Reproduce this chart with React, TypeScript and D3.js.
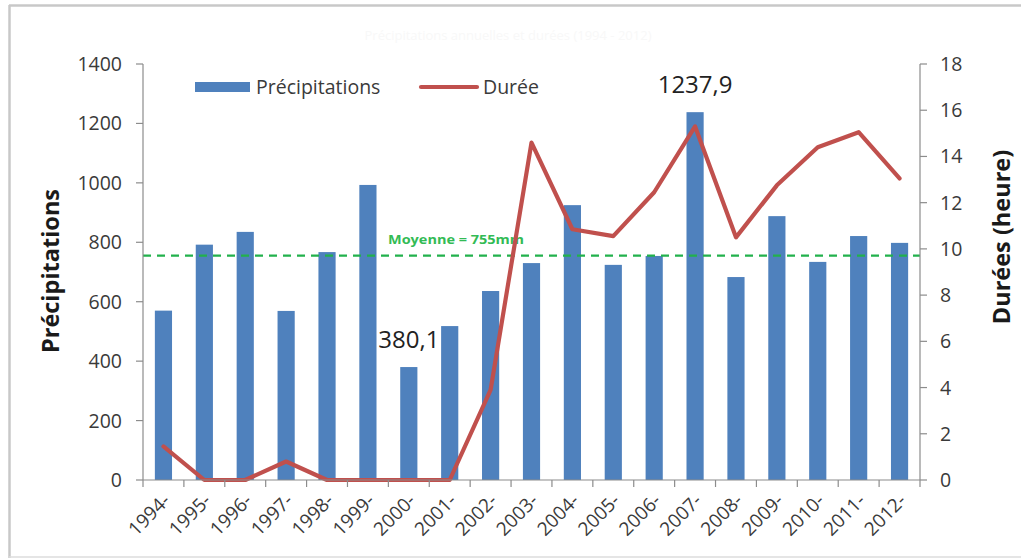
import React from "react";
import * as d3 from "d3";

const years = ["1994-","1995-","1996-","1997-","1998-","1999-","2000-","2001-","2002-","2003-","2004-","2005-","2006-","2007-","2008-","2009-","2010-","2011-","2012-"];
const precipitations = [570, 792, 835, 569, 767, 993, 380.1, 518, 636, 730, 925, 724, 754, 1237.9, 683, 888, 734, 821, 798];
const durees = [1.45, 0, 0, 0.8, 0, 0, 0, 0, 3.9, 14.6, 10.85, 10.55, 12.45, 15.3, 10.5, 12.75, 14.4, 15.05, 13.05];
const leftTicks = [0, 200, 400, 600, 800, 1000, 1200, 1400];
const rightTicks = [0, 2, 4, 6, 8, 10, 12, 14, 16, 18];
const moyenne = 755;
const annotations = [{ year: "2000-", text: "380,1" }, { year: "2007-", text: "1237,9" }];

const W = 1021, H = 558;
const FONT = "'Open Sans', Lato, sans-serif";

export default function App() {
  const left = 143, right = 920, top = 64, bottom = 480;
  const x = d3.scaleBand<string>().domain(years).range([left, right]).paddingInner(0.58).paddingOuter(0.29);
  const xb = d3.scaleBand<string>().domain(years).range([left, right]);
  const yL = d3.scaleLinear().domain([0, 1400]).range([bottom, top]);
  const yR = d3.scaleLinear().domain([0, 18]).range([bottom, top]);
  const line = d3.line<number>().x((_, i) => xb(years[i])! + xb.bandwidth() / 2).y(d => yR(d));
  const axisColor = "#8c8c8c";
  const textColor = "#3a3a3a";
  return (
    <svg width={W} height={H} style={{ position: "absolute", left: 0, top: 0, background: "#fff" }}>
      <rect x={0} y={0} width={W} height={H} fill="#fff" />
      {/* frame */}
      <line x1={9} x2={W} y1={5.5} y2={5.5} stroke="#c8c8c8" strokeWidth={2.5} />
      <line x1={9.5} x2={9.5} y1={5} y2={H} stroke="#c8c8c8" strokeWidth={2.5} />
      <line x1={9} x2={W} y1={557} y2={557} stroke="#dcdcdc" strokeWidth={1.5} />
      {/* faint title */}
      <text x={508} y={40} textAnchor="middle" fontFamily={FONT} fontSize={13} fill="#f8f8f8">Précipitations annuelles et durées (1994 - 2012)</text>
      {/* bars */}
      {precipitations.map((v, i) => (
        <rect key={years[i]} x={x(years[i])} y={yL(v)} width={x.bandwidth()} height={yL(0) - yL(v)} fill="#4f81bd" />
      ))}
      {/* mean line */}
      <line x1={left} x2={right} y1={yL(moyenne)} y2={yL(moyenne)} stroke="#22b14c" strokeWidth={2.2} strokeDasharray="8,6" />
      <text x={456} y={yL(moyenne) - 12} textAnchor="middle" fontFamily={FONT} fontWeight={700} fontSize={12.5} textLength={136} lengthAdjust="spacingAndGlyphs" fill="#33bb55">Moyenne = 755mm</text>
      {/* duration line */}
      <path d={line(durees) || ""} fill="none" stroke="#c0504d" strokeWidth={4.2} strokeLinejoin="round" strokeLinecap="round" />
      {/* left axis */}
      <line x1={left} x2={left} y1={top} y2={bottom} stroke={axisColor} strokeWidth={1.2} />
      {leftTicks.map(t => (
        <g key={"l" + t}>
          <line x1={left - 7} x2={left} y1={yL(t)} y2={yL(t)} stroke={axisColor} strokeWidth={1.2} />
          <text x={122} y={yL(t)} dy="0.36em" textAnchor="end" fontFamily={FONT} fontSize={19.5} fill={textColor}>{t}</text>
        </g>
      ))}
      {/* right axis */}
      <line x1={right} x2={right} y1={top} y2={bottom} stroke={axisColor} strokeWidth={1.2} />
      {rightTicks.map(t => (
        <g key={"r" + t}>
          <line x1={right} x2={right + 7} y1={yR(t)} y2={yR(t)} stroke={axisColor} strokeWidth={1.2} />
          <text x={940} y={yR(t)} dy="0.36em" textAnchor="start" fontFamily={FONT} fontSize={19.5} fill={textColor}>{t}</text>
        </g>
      ))}
      {/* x axis */}
      <line x1={left} x2={right} y1={bottom} y2={bottom} stroke={axisColor} strokeWidth={1.2} />
      {years.map(yv => (
        <line key={"t" + yv} x1={xb(yv)!} x2={xb(yv)!} y1={bottom} y2={bottom + 7} stroke={axisColor} strokeWidth={1.2} />
      ))}
      <line x1={right} x2={right} y1={bottom} y2={bottom + 7} stroke={axisColor} strokeWidth={1.2} />
      {years.map(yv => {
        const cx = xb(yv)! + xb.bandwidth() / 2 + 3;
        const cy = 497;
        return (
          <text key={"xl" + yv} x={cx} y={cy} transform={`rotate(-45 ${cx} ${cy})`} textAnchor="end" dy="0.36em" fontFamily={FONT} fontSize={19} fill={textColor}>{yv}</text>
        );
      })}
      {/* axis titles */}
      <text transform={`translate(51 ${271}) rotate(-90)`} textAnchor="middle" dy="0.36em" fontFamily={FONT} fontWeight={700} fontSize={23.5} fill="#1a1a1a">Précipitations</text>
      <text transform={`translate(1002 ${237}) rotate(-90)`} textAnchor="middle" dy="0.36em" fontFamily={FONT} fontWeight={700} fontSize={23.5} fill="#1a1a1a">Durées (heure)</text>
      {/* annotations */}
      {annotations.map(a => {
        const i = years.indexOf(a.year);
        const cx = xb(a.year)! + xb.bandwidth() / 2;
        return (
          <text key={a.text} x={cx} y={yL(precipitations[i]) - 19} textAnchor="middle" fontFamily={FONT} fontSize={24} fill="#222">{a.text}</text>
        );
      })}
      {/* legend */}
      <rect x={195} y={82} width={55} height={10} fill="#4f81bd" />
      <text x={256} y={87} dy="0.36em" fontFamily={FONT} fontSize={19.5} fill={textColor}>Précipitations</text>
      <line x1={421} x2={477} y1={87} y2={87} stroke="#c0504d" strokeWidth={4.2} strokeLinecap="round" />
      <text x={483} y={87} dy="0.36em" fontFamily={FONT} fontSize={19.5} fill={textColor}>Durée</text>
    </svg>
  );
}
